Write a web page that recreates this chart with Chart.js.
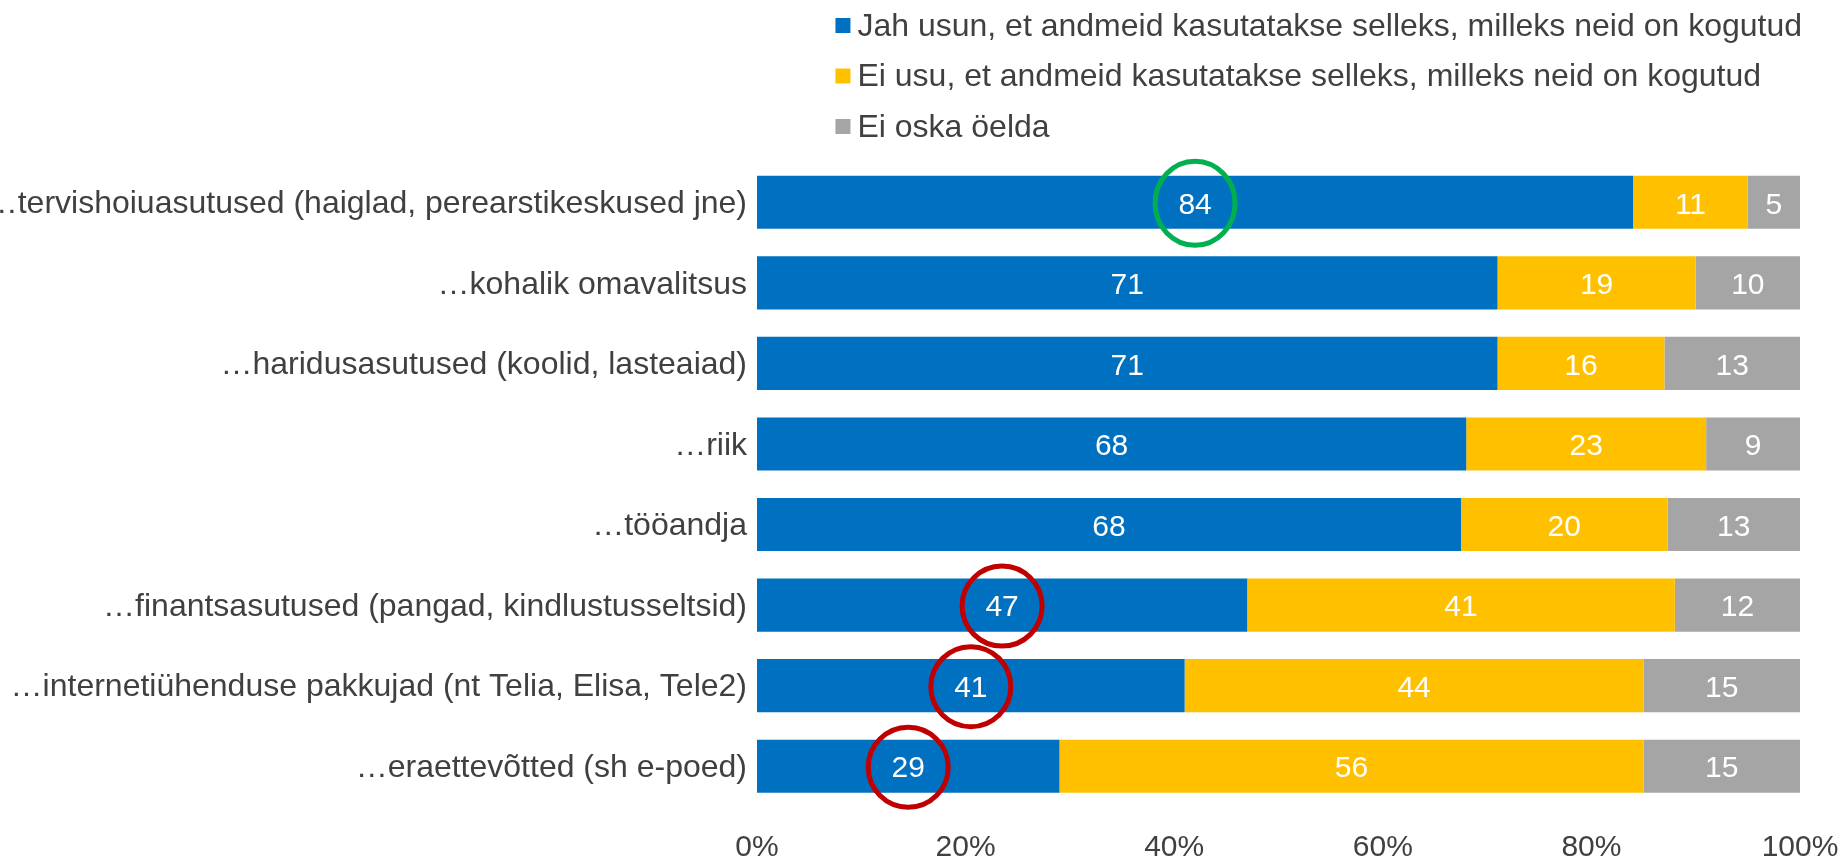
<!DOCTYPE html>
<html>
<head>
<meta charset="utf-8">
<script src="https://cdn.jsdelivr.net/npm/chart.js@4/dist/chart.umd.min.js"></script>
<style>
  html, body { margin: 0; padding: 0; background: #fff; }
  #wrap { width: 1847px; height: 857px; }
</style>
</head>
<body>
<div id="wrap"><canvas id="bar-chart" width="1847" height="857"></canvas></div>
<script>
var categories = [
    "\u2026tervishoiuasutused (haiglad, perearstikeskused jne)",
    "\u2026kohalik omavalitsus",
    "\u2026haridusasutused (koolid, lasteaiad)",
    "\u2026riik",
    "\u2026tööandja",
    "\u2026finantsasutused (pangad, kindlustusseltsid)",
    "\u2026internetiühenduse pakkujad (nt Telia, Elisa, Tele2)",
    "\u2026eraettevõtted (sh e-poed)"
];
var seriesNames = [
    "Jah usun, et andmeid kasutatakse selleks, milleks neid on kogutud",
    "Ei usu, et andmeid kasutatakse selleks, milleks neid on kogutud",
    "Ei oska öelda"
];
var jahValues = [84, 71, 71, 68, 67.5, 47, 41, 29];
var eiValues = [11, 19, 16, 23, 19.8, 41, 44, 56];
var eiOskaValues = [5, 10, 13, 9, 12.7, 12, 15, 15];
var xTicks = [0, 20, 40, 60, 80, 100];

// highlighted cells of the first series
var greenMarks = [0];
var redMarks = [5, 6, 7];

var colors = ['#0070C0', '#FFC000', '#A5A5A5'];
var textColor = '#404040';
var fontFamily = "'Liberation Sans', Arial, sans-serif";

// white numbers in the middle of every segment
var valueLabels = {
    id: 'valueLabels',
    afterDatasetsDraw: function (chart) {
        var ctx = chart.ctx;
        ctx.save();
        ctx.font = '30px ' + fontFamily;
        ctx.fillStyle = '#ffffff';
        ctx.textAlign = 'center';
        ctx.textBaseline = 'middle';
        chart.data.datasets.forEach(function (ds, i) {
            var meta = chart.getDatasetMeta(i);
            meta.data.forEach(function (bar, j) {
                var p = bar.getCenterPoint();
                ctx.fillText(Math.round(ds.data[j]), p.x, p.y + 3);
            });
        });
        ctx.restore();
    }
};

// circles drawn over some labels
var marks = {
    id: 'marks',
    afterDraw: function (chart) {
        var ctx = chart.ctx;
        var meta = chart.getDatasetMeta(0);
        ctx.save();
        ctx.lineWidth = 5;
        greenMarks.forEach(function (j) {
            var p = meta.data[j].getCenterPoint();
            ctx.strokeStyle = '#00B050';
            ctx.beginPath();
            ctx.ellipse(p.x, p.y + 1, 40, 42, 0, 0, Math.PI * 2);
            ctx.stroke();
        });
        redMarks.forEach(function (j) {
            var p = meta.data[j].getCenterPoint();
            ctx.strokeStyle = '#C00000';
            ctx.beginPath();
            ctx.ellipse(p.x, p.y + 1, 40, 40, 0, 0, Math.PI * 2);
            ctx.stroke();
        });
        ctx.restore();
    }
};

// legend: one item per line, right edge at the plot's right edge
var stackedLegend = {
    id: 'stackedLegend',
    afterDraw: function (chart) {
        var ctx = chart.ctx;
        ctx.save();
        ctx.font = '32px ' + fontFamily;
        ctx.textBaseline = 'middle';
        ctx.textAlign = 'left';
        var maxW = 0;
        chart.data.datasets.forEach(function (ds) {
            maxW = Math.max(maxW, ctx.measureText(ds.label).width);
        });
        var textX = chart.chartArea.right + 2 - maxW;
        chart.data.datasets.forEach(function (ds, i) {
            var y = 26 + i * 50.5;
            ctx.fillStyle = ds.backgroundColor;
            ctx.fillRect(textX - 22, y - 8, 15, 15);
            ctx.fillStyle = textColor;
            ctx.fillText(ds.label, textX, y + 1);
        });
        ctx.restore();
    }
};

var ctx = document.getElementById("bar-chart");

var chartGraph = new Chart(ctx, {
    type: 'bar',
    data: {
        labels: categories,
        datasets: [
            { label: seriesNames[0], data: jahValues, backgroundColor: colors[0] },
            { label: seriesNames[1], data: eiValues, backgroundColor: colors[1] },
            { label: seriesNames[2], data: eiOskaValues, backgroundColor: colors[2] }
        ]
    },
    options: {
        indexAxis: 'y',
        responsive: false,
        animation: false,
        devicePixelRatio: 1,
        layout: {
            padding: { top: 162, right: 47, bottom: 0, left: 0 }
        },
        datasets: {
            bar: {
                categoryPercentage: 1,
                barPercentage: 0.66,
                borderWidth: 0
            }
        },
        scales: {
            x: {
                stacked: true,
                min: 0,
                max: 100,
                afterBuildTicks: function (scale) {
                    scale.ticks = xTicks.map(function (v) { return { value: v }; });
                },
                afterFit: function (scale) {
                    scale.height = 50.5;
                    scale.paddingLeft = 0;
                    scale.paddingRight = 0;
                },
                grid: { display: false, drawTicks: false },
                border: { display: false },
                ticks: {
                    padding: 26,
                    color: textColor,
                    font: { family: fontFamily, size: 30, lineHeight: 1 },
                    maxRotation: 0,
                    callback: function (v) { return v + '%'; }
                }
            },
            y: {
                stacked: true,
                afterFit: function (scale) {
                    scale.width = 757;
                    scale.paddingTop = 0;
                    scale.paddingBottom = 0;
                },
                grid: { display: false, drawTicks: false },
                border: { display: false },
                ticks: {
                    padding: 10,
                    labelOffset: 2,
                    color: textColor,
                    autoSkip: false,
                    font: { family: fontFamily, size: 32 }
                }
            }
        },
        plugins: {
            legend: { display: false },
            tooltip: { enabled: false }
        }
    },
    plugins: [valueLabels, marks, stackedLegend]
});
</script>
</body>
</html>
